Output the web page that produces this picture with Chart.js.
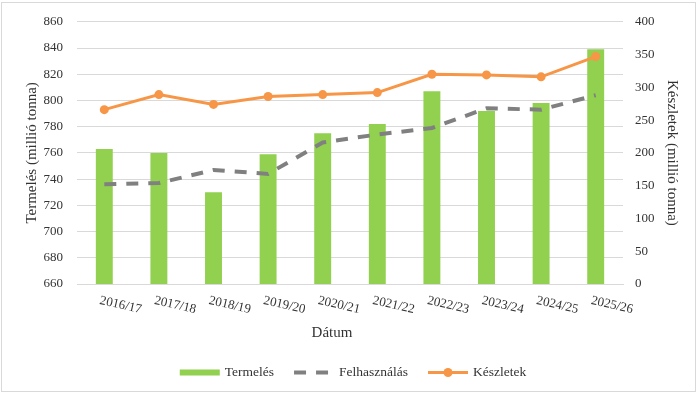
<!DOCTYPE html>
<html>
<head>
<meta charset="utf-8">
<script src="https://cdn.jsdelivr.net/npm/chart.js@4.4.1/dist/chart.umd.min.js"></script>
<style>
  html, body { margin: 0; padding: 0; background: #ffffff; }
  #wrap { position: relative; width: 700px; height: 395px; }
  #frame { position: absolute; left: 1px; top: 2px; width: 695px; height: 390px; border: 1px solid #d9d9d9; box-sizing: border-box; pointer-events: none; }
  canvas { display: block; }
</style>
</head>
<body>
<div id="wrap">
  <canvas id="c" width="700" height="395"></canvas>
  <div id="frame"></div>
</div>
<script>
const categories = ['2016/17','2017/18','2018/19','2019/20','2020/21','2021/22','2022/23','2023/24','2024/25','2025/26'];
const termeles = [763, 760, 730, 759, 775, 782, 807, 792, 798, 839];
const felhasznalas = [736, 737, 747, 744, 768, 774, 779, 794, 793, 804];
const keszletek = [266, 289, 274, 286, 289, 292, 320, 319, 316, 347];
const seriesNames = ['Termelés', 'Felhasználás', 'Készletek'];
const leftTitle = 'Termelés (millió tonna)';
const rightTitle = 'Készletek (millió tonna)';
const xTitle = 'Dátum';

const SERIF = "'Liberation Serif', 'Times New Roman', serif";
const GREEN = '#92d050';
const GREY = '#808080';
const ORANGE = '#f79646';
const TEXT = '#333333';
const GRID = '#d9d9d9';

const customDraw = {
  id: 'customDraw',
  afterDraw(chart) {
    const ctx = chart.ctx;
    const xs = chart.scales.x;
    // rotated category labels
    ctx.save();
    ctx.fillStyle = TEXT;
    ctx.font = '13px ' + SERIF;
    ctx.textAlign = 'left';
    ctx.textBaseline = 'top';
    chart.data.labels.forEach((lab, i) => {
      const px = xs.getPixelForValue(i);
      ctx.save();
      ctx.translate(px - 3, xs.top + 10);
      ctx.rotate(13 * Math.PI / 180);
      ctx.fillText(lab, 0, 0);
      ctx.restore();
    });
    // x axis title (slightly left of plot centre, as in the reference)
    ctx.font = '15px ' + SERIF;
    ctx.textAlign = 'center';
    ctx.textBaseline = 'middle';
    ctx.fillText(xTitle, (xs.left + xs.right) / 2 - 18, xs.bottom - 12);
    ctx.restore();

    // legend
    ctx.save();
    ctx.font = '13.5px ' + SERIF;
    ctx.textBaseline = 'middle';
    ctx.textAlign = 'left';
    const symW = 40, gap = 5, itemGap = 20;
    const ds = chart.data.datasets;
    const widths = ds.map(d => symW + gap + ctx.measureText(d.label).width);
    const total = widths.reduce((a, b) => a + b, 0) + itemGap * (ds.length - 1);
    let x = 353 - total / 2;
    const y = 372.5;
    ds.forEach((d, i) => {
      if (d.type === 'bar') {
        ctx.fillStyle = d.backgroundColor;
        ctx.fillRect(x, y - 3, symW, 6);
      } else {
        ctx.strokeStyle = d.borderColor;
        ctx.lineWidth = d.borderWidth;
        ctx.setLineDash(d.borderDash || []);
        ctx.beginPath();
        ctx.moveTo(x, y);
        ctx.lineTo(x + symW, y);
        ctx.stroke();
        ctx.setLineDash([]);
        if (d.pointRadius > 0) {
          ctx.fillStyle = d.pointBackgroundColor;
          ctx.beginPath();
          ctx.arc(x + symW / 2, y, d.pointRadius, 0, Math.PI * 2);
          ctx.fill();
        }
      }
      ctx.fillStyle = TEXT;
      ctx.fillText(d.label, x + symW + gap, y);
      x += widths[i] + itemGap;
    });
    ctx.restore();
  }
};

new Chart(document.getElementById('c'), {
  data: {
    labels: categories,
    datasets: [
      {
        type: 'bar', label: seriesNames[0], data: termeles, yAxisID: 'y',
        backgroundColor: GREEN, borderWidth: 0,
        barPercentage: 0.31, categoryPercentage: 1, order: 3
      },
      {
        type: 'line', label: seriesNames[1], data: felhasznalas, yAxisID: 'y',
        borderColor: GREY, borderWidth: 4, borderDash: [12, 10],
        pointRadius: 0, tension: 0, fill: false, order: 2
      },
      {
        type: 'line', label: seriesNames[2], data: keszletek, yAxisID: 'y2',
        borderColor: ORANGE, borderWidth: 3, pointRadius: 4.5,
        pointBackgroundColor: ORANGE, pointBorderColor: ORANGE, pointBorderWidth: 0,
        tension: 0, fill: false, order: 1
      }
    ]
  },
  options: {
    responsive: false,
    animation: false,
    events: [],
    layout: { padding: { top: 19, bottom: 50, left: 0, right: 0 } },
    plugins: { legend: { display: false }, tooltip: { enabled: false } },
    scales: {
      x: {
        type: 'category', offset: true,
        grid: { display: false, drawTicks: false },
        border: { display: true, color: GRID, width: 1 },
        ticks: { display: false },
        title: { display: false },
        afterFit(scale) { scale.height = 61; }
      },
      y: {
        position: 'left', min: 660, max: 860,
        ticks: { stepSize: 20, color: TEXT, font: { family: SERIF, size: 13 }, padding: 14 },
        grid: { color: GRID, drawTicks: false, lineWidth: 1 },
        border: { display: false },
        title: { display: true, text: leftTitle, color: TEXT, font: { family: SERIF, size: 15 }, padding: { top: 23, bottom: 0 } },
        afterFit(scale) { scale.width = 77; }
      },
      y2: {
        position: 'right', min: 0, max: 400,
        ticks: { stepSize: 50, color: TEXT, font: { family: SERIF, size: 13 }, padding: 12 },
        grid: { drawOnChartArea: false, drawTicks: false },
        border: { display: false },
        title: { display: true, text: rightTitle, color: TEXT, font: { family: SERIF, size: 15 }, padding: { top: 19, bottom: 0 } },
        afterFit(scale) { scale.width = 77; }
      }
    }
  },
  plugins: [customDraw]
});
</script>
</body>
</html>
